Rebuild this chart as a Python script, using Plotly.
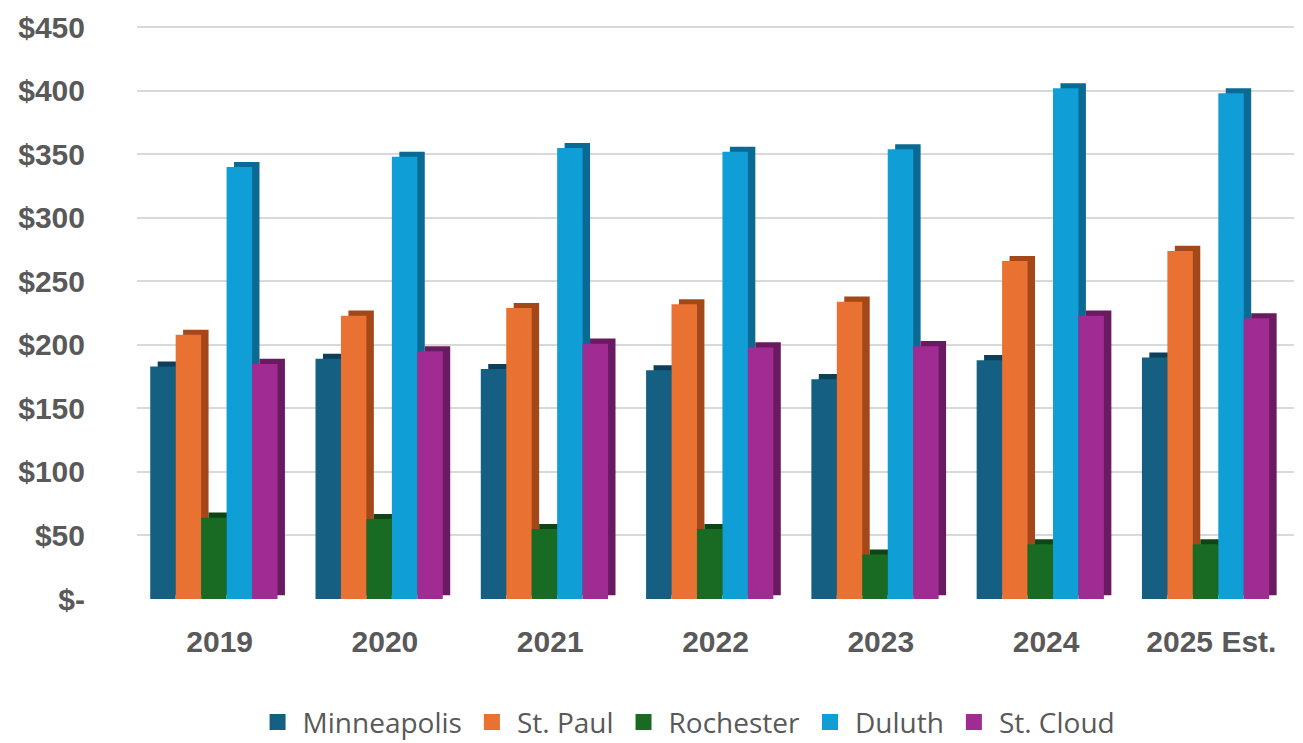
import plotly.graph_objects as go

years = ["2019", "2020", "2021", "2022", "2023", "2024", "2025 Est."]
minneapolis = [183, 189, 181, 180, 173, 188, 190]
st_paul = [208, 223, 229, 232, 234, 266, 274]
rochester = [64, 63, 55, 55, 35, 43, 43]
duluth = [340, 348, 355, 352, 354, 402, 398]
st_cloud = [185, 195, 201, 198, 199, 223, 221]

series = [
    ("Minneapolis", minneapolis, "#156082", "#0B3F5A"),
    ("St. Paul", st_paul, "#E97132", "#A4481A"),
    ("Rochester", rochester, "#196B24", "#0E4516"),
    ("Duluth", duluth, "#0F9ED5", "#0A6A93"),
    ("St. Cloud", st_cloud, "#A02B93", "#691A60"),
]

tick_vals = [0, 50, 100, 150, 200, 250, 300, 350, 400, 450]
tick_text = ["$-", "$50", "$100", "$150", "$200", "$250", "$300", "$350", "$400", "$450"]

xs = list(range(len(years)))
w = 0.154
start = -0.42
depth_x = 0.045
depth_y = 4

fig = go.Figure()
for i, (name, vals, col, dark) in enumerate(series):
    off = start + i * w
    # side / top face (pseudo 3D)
    fig.add_trace(go.Bar(
        x=xs, y=[v + depth_y - 3 for v in vals], base=3,
        width=w, offset=off + depth_x,
        marker=dict(color=dark, line=dict(width=0)),
        showlegend=False, hoverinfo="skip",
    ))
    fig.add_trace(go.Bar(
        x=xs, y=vals, name=name, legendgroup=name, showlegend=False,
        width=w, offset=off,
        marker=dict(color=col, line=dict(width=0)),
    ))
    # legend proxy with a larger square swatch
    fig.add_trace(go.Scatter(
        x=[None], y=[None], mode="markers", name=name, legendgroup=name,
        marker=dict(symbol="square", size=16, color=col),
        showlegend=True,
    ))

fig.update_layout(
    width=1303, height=743,
    barmode="overlay",
    paper_bgcolor="white", plot_bgcolor="white",
    margin=dict(l=129, r=17, t=18, b=152),
    showlegend=True,
    legend=dict(
        orientation="h", x=0.475, xanchor="center",
        yref="container", y=0.005, yanchor="bottom",
        font=dict(family="Open Sans", size=28, color="#595959"),
        itemwidth=40, traceorder="normal",
    ),
    xaxis=dict(
        tickmode="array", tickvals=xs, ticktext=years,
        range=[-0.5, 6.5], showgrid=False, zeroline=False, showline=False,
        tickfont=dict(family="Liberation Sans", size=30, color="#595959", weight="bold"),
        ticks="", ticklabelstandoff=22, automargin=False,
    ),
    yaxis=dict(
        range=[0, 451], tickmode="array", tickvals=tick_vals, ticktext=tick_text,
        showgrid=True, gridcolor="#D9D9D9", gridwidth=2, zeroline=False, showline=False,
        tickfont=dict(family="Liberation Sans", size=30, color="#595959", weight="bold"),
        ticks="", ticklabelstandoff=51, automargin=False,
    ),
)

fig.write_html("out.html")
